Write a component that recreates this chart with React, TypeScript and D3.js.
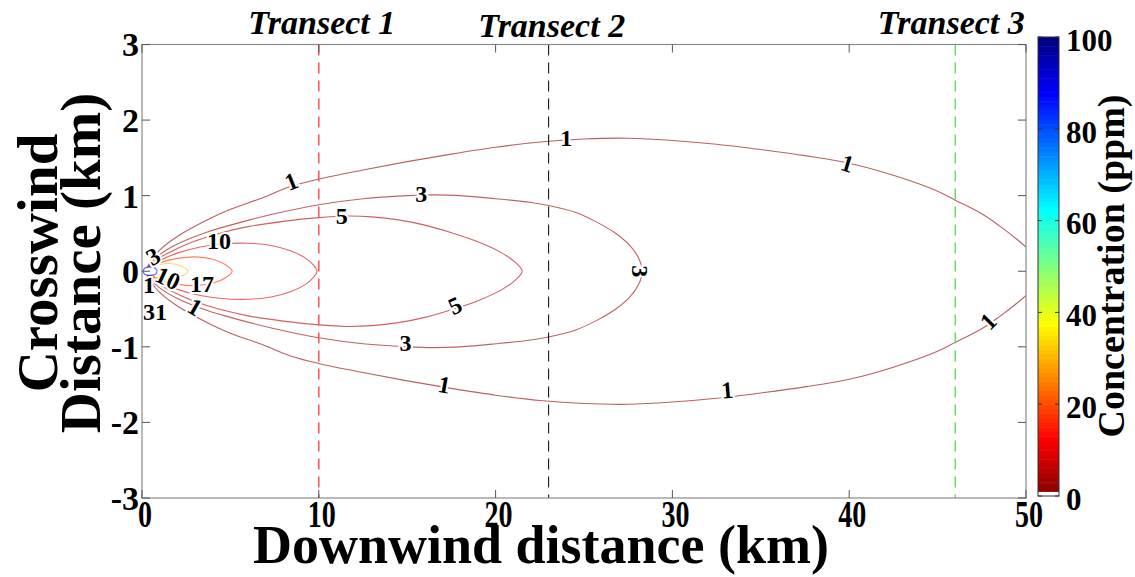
import React, { useEffect, useRef } from 'react';
import * as d3 from 'd3';

// upper half of each contour, [downwind km, crosswind km]; the lower half is its mirror
const contour1 = [
  [0.25, 0], [0.5, 0.14], [1, 0.28], [2, 0.46], [3.7, 0.68], [5, 0.82], [6.8, 0.97], [8.4, 1.12],
  [10, 1.22], [12.5, 1.34], [15, 1.45], [17.5, 1.55], [20, 1.64], [22.5, 1.71], [25, 1.75],
  [27.5, 1.76], [30, 1.73], [32.5, 1.68], [35, 1.61], [37.5, 1.53], [40, 1.43], [42.5, 1.27],
  [45, 1.06], [46, 0.94], [47.5, 0.76], [48.5, 0.6], [49.5, 0.42], [50, 0.32],
];
const contour3 = [
  [0.25, 0], [0.5, 0.11], [1, 0.22], [2, 0.36], [3.7, 0.52], [5, 0.61], [6.1, 0.68], [7.5, 0.76],
  [10, 0.88], [12.5, 0.96], [15, 1.0], [16.5, 1.01], [18, 1.0], [20, 0.96], [22, 0.91], [23, 0.87],
  [24.5, 0.78], [25.8, 0.64], [26.8, 0.5], [27.6, 0.34], [28.1, 0.17], [28.3, 0],
];
const contour5 = [
  [0.25, 0], [0.5, 0.09], [1, 0.18], [2, 0.3], [3, 0.4], [4.5, 0.51], [6, 0.59], [8, 0.66],
  [10, 0.71], [11.5, 0.73], [13, 0.72], [14.5, 0.68], [16, 0.61], [17.5, 0.51], [19, 0.39],
  [20.3, 0.25], [21.1, 0.12], [21.5, 0],
];
const contour10 = [
  [0.25, 0], [0.5, 0.06], [1, 0.14], [2, 0.24], [3.3, 0.32], [4.5, 0.36], [6, 0.37], [7.3, 0.34],
  [8.4, 0.27], [9.2, 0.18], [9.7, 0.08], [9.9, 0],
];
const contour17 = [
  [0.25, 0], [0.5, 0.05], [1, 0.11], [2, 0.17], [3, 0.19], [4, 0.16], [4.7, 0.09], [5.1, 0],
];
const contour31 = [
  [0.25, 0], [0.5, 0.05], [1, 0.09], [1.7, 0.1], [2.2, 0.07], [2.6, 0],
];
const contour88 = [
  [0.06, 0], [0.15, 0.04], [0.45, 0.055], [0.75, 0.04], [0.85, 0],
];

const contourLevels = [1, 3, 5, 10, 17, 31, 88];
const contourHalves = [contour1, contour3, contour5, contour10, contour17, contour31, contour88];

// clabel texts: [downwind km, crosswind km, text, angle]
const contourLabels: [number, number, string, number][] = [
  [8.43, 1.19, '1', -22],
  [24.0, 1.77, '1', 0],
  [39.9, 1.43, '1', 17],
  [47.85, -0.66, '1', -45],
  [33.1, -1.57, '1', -5],
  [17.1, -1.5, '1', 10],
  [15.8, 1.03, '3', 0],
  [28.2, 0, '3', 90],
  [14.9, -0.95, '3', 0],
  [11.3, 0.73, '5', 0],
  [17.7, -0.45, '5', -25],
  [4.36, 0.4, '10', 0],
  [1.47, -0.09, '10', 25],
  [3.39, -0.16, '17', 0],
  [0.62, 0.2, '3', -30],
  [0.4, -0.18, '1', 0],
  [0.74, -0.54, '31', 0],
  [3.0, -0.47, '1', 30],
];

const transectX = [10, 23, 46];
const transectNames = ['Transect 1', 'Transect 2', 'Transect 3'];

const xTicks = [0, 10, 20, 30, 40, 50];
const yTicks = [-3, -2, -1, 0, 1, 2, 3];
const colorTicks = [0, 20, 40, 60, 80, 100];

const jet = (t: number) => {
  const c = (v: number) => Math.max(0, Math.min(1, v));
  const r = c(1.5 - Math.abs(4 * t - 3));
  const g = c(1.5 - Math.abs(4 * t - 2));
  const b = c(1.5 - Math.abs(4 * t - 1));
  return d3.rgb(r * 255, g * 255, b * 255).formatHex();
};
// colormap is flipped: 0 ppm dark red, 100 ppm dark blue
const concColor = (v: number) => jet(1 - v / 100);

const fullContour = (half: number[][]) => {
  const lower = half.map(([x, y]) => [x, -y]);
  const last = half[half.length - 1];
  if (last[1] === 0) {
    return [...half, ...lower.slice(0, -1).reverse()];
  }
  // open contour, cut by the right edge of the domain
  return [...half.slice().reverse(), ...lower.slice(1)];
};

const App = () => {
  const svgRef = useRef<SVGSVGElement>(null);

  useEffect(() => {
    const svg = d3.select(svgRef.current);
    svg.selectAll('*').remove();

    const width = 1135;
    const height = 577;
    const plot = { left: 142, right: 1026, top: 44.5, bottom: 498 };
    const font = '"Liberation Serif", "Times New Roman", serif';

    svg.attr('width', width).attr('height', height);
    svg.append('rect').attr('width', width).attr('height', height).attr('fill', 'white');

    const x = d3.scaleLinear().domain([0, 50]).range([plot.left, plot.right]);
    const y = d3.scaleLinear().domain([-3, 3]).range([plot.bottom, plot.top]);

    svg.append('clipPath').attr('id', 'plotclip')
      .append('rect')
      .attr('x', plot.left).attr('y', plot.top)
      .attr('width', plot.right - plot.left).attr('height', plot.bottom - plot.top);

    const g = svg.append('g').attr('clip-path', 'url(#plotclip)');

    // contour lines
    const line = d3.line<number[]>()
      .x(d => x(d[0]))
      .y(d => y(d[1]))
      .curve(d3.curveCatmullRom);

    contourHalves.forEach((half, i) => {
      const lvl = contourLevels[i];
      g.append('path')
        .attr('d', line(fullContour(half)))
        .attr('fill', lvl > 50 ? 'white' : 'none')
        .attr('stroke', concColor(lvl))
        .attr('stroke-opacity', lvl > 50 ? 0.6 : 0.62)
        .attr('stroke-width', 1.1);
    });

    // transects
    const transectColors = ['#ff5050', '#000000', '#66dd66'];
    transectX.forEach((tx, i) => {
      g.append('line')
        .attr('x1', x(tx)).attr('x2', x(tx))
        .attr('y1', plot.top).attr('y2', plot.bottom)
        .attr('stroke', transectColors[i])
        .attr('stroke-width', i === 1 ? 1 : 1.5)
        .attr('stroke-dasharray', '11,7');
      svg.append('text')
        .attr('x', x(tx) + (i === 2 ? -4 : 3))
        .attr('y', i === 1 ? 37 : 34)
        .attr('text-anchor', 'middle')
        .style('font-family', font)
        .style('font-weight', 'bold')
        .style('font-style', 'italic')
        .style('font-size', '34px')
        .text(transectNames[i]);
    });

    // contour labels
    contourLabels.forEach(([lx, ly, t, a]) => {
      g.append('text')
        .attr('transform', `translate(${x(lx)},${y(ly)}) rotate(${a})`)
        .attr('text-anchor', 'middle')
        .attr('dy', '0.35em')
        .style('font-family', font)
        .style('font-weight', 'bold')
        .style('font-size', '24px')
        .style('paint-order', 'stroke')
        .attr('stroke', 'white')
        .attr('stroke-width', 4)
        .attr('fill', 'black')
        .text(t);
    });

    // axes box
    svg.append('rect')
      .attr('x', plot.left).attr('y', plot.top)
      .attr('width', plot.right - plot.left).attr('height', plot.bottom - plot.top)
      .attr('fill', 'none')
      .attr('stroke', '#8a8a8a')
      .attr('stroke-width', 1.2);

    const tickLen = 8;
    xTicks.forEach(t => {
      svg.append('line')
        .attr('x1', x(t)).attr('x2', x(t))
        .attr('y1', plot.bottom).attr('y2', plot.bottom - tickLen)
        .attr('stroke', '#555');
      svg.append('line')
        .attr('x1', x(t)).attr('x2', x(t))
        .attr('y1', plot.top).attr('y2', plot.top + tickLen)
        .attr('stroke', '#555');
      svg.append('text')
        .attr('transform', `translate(${x(t) + 3},527) scale(0.85,1.15)`)
        .attr('text-anchor', 'middle')
        .style('font-family', font)
        .style('font-weight', 'bold')
        .style('font-size', '33px')
        .text(t);
    });
    yTicks.forEach(t => {
      svg.append('line')
        .attr('x1', plot.left).attr('x2', plot.left + tickLen)
        .attr('y1', y(t)).attr('y2', y(t))
        .attr('stroke', '#555');
      svg.append('line')
        .attr('x1', plot.right).attr('x2', plot.right - tickLen)
        .attr('y1', y(t)).attr('y2', y(t))
        .attr('stroke', '#555');
      svg.append('text')
        .attr('x', plot.left - 3).attr('y', y(t))
        .attr('dy', '0.35em')
        .attr('text-anchor', 'end')
        .style('font-family', font)
        .style('font-weight', 'bold')
        .style('font-size', '34px')
        .text(t);
    });

    // axis titles
    svg.append('text')
      .attr('x', 541).attr('y', 563)
      .attr('text-anchor', 'middle')
      .style('font-family', font)
      .style('font-weight', 'bold')
      .style('font-size', '54px')
      .text('Downwind distance (km)');

    ['Crosswind', 'Distance (km)'].forEach((t, i) => {
      svg.append('text')
        .attr('transform', `translate(${i === 0 ? 57 : 100},263) rotate(-90)`)
        .attr('text-anchor', 'middle')
        .style('font-family', font)
        .style('font-weight', 'bold')
        .style('font-size', '57px')
        .text(t);
    });

    // colorbar
    const cbar = { left: 1038, right: 1059, top: 37, bottom: 496 };
    const c = d3.scaleLinear().domain([0, 100]).range([cbar.bottom, cbar.top]);
    const bands = d3.range(100);
    svg.append('g').selectAll('rect')
      .data(bands)
      .enter()
      .append('rect')
      .attr('x', cbar.left)
      .attr('width', cbar.right - cbar.left)
      .attr('y', d => c(d + 1))
      .attr('height', d => c(d) - c(d + 1) + 0.5)
      .attr('fill', d => (d === 0 ? 'white' : concColor(d + 0.5)));
    svg.append('rect')
      .attr('x', cbar.left).attr('y', cbar.top)
      .attr('width', cbar.right - cbar.left).attr('height', cbar.bottom - cbar.top)
      .attr('fill', 'none')
      .attr('stroke', '#333')
      .attr('stroke-width', 1);
    colorTicks.forEach(t => {
      svg.append('line')
        .attr('x1', cbar.left).attr('x2', cbar.left + 4)
        .attr('y1', c(t)).attr('y2', c(t))
        .attr('stroke', '#333');
      svg.append('line')
        .attr('x1', cbar.right).attr('x2', cbar.right - 4)
        .attr('y1', c(t)).attr('y2', c(t))
        .attr('stroke', '#333');
      svg.append('text')
        .attr('x', 1066).attr('y', c(t) + 3)
        .attr('dy', '0.35em')
        .style('font-family', font)
        .style('font-weight', 'bold')
        .style('font-size', '31px')
        .text(t);
    });
    svg.append('text')
      .attr('transform', 'translate(1124,266) rotate(-90)')
      .attr('text-anchor', 'middle')
      .style('font-family', font)
      .style('font-weight', 'bold')
      .style('font-size', '38px')
      .text('Concentration (ppm)');
  }, []);

  return (
    <svg ref={svgRef} style={{ position: 'absolute', left: 0, top: 0 }}></svg>
  );
};

export default App;
